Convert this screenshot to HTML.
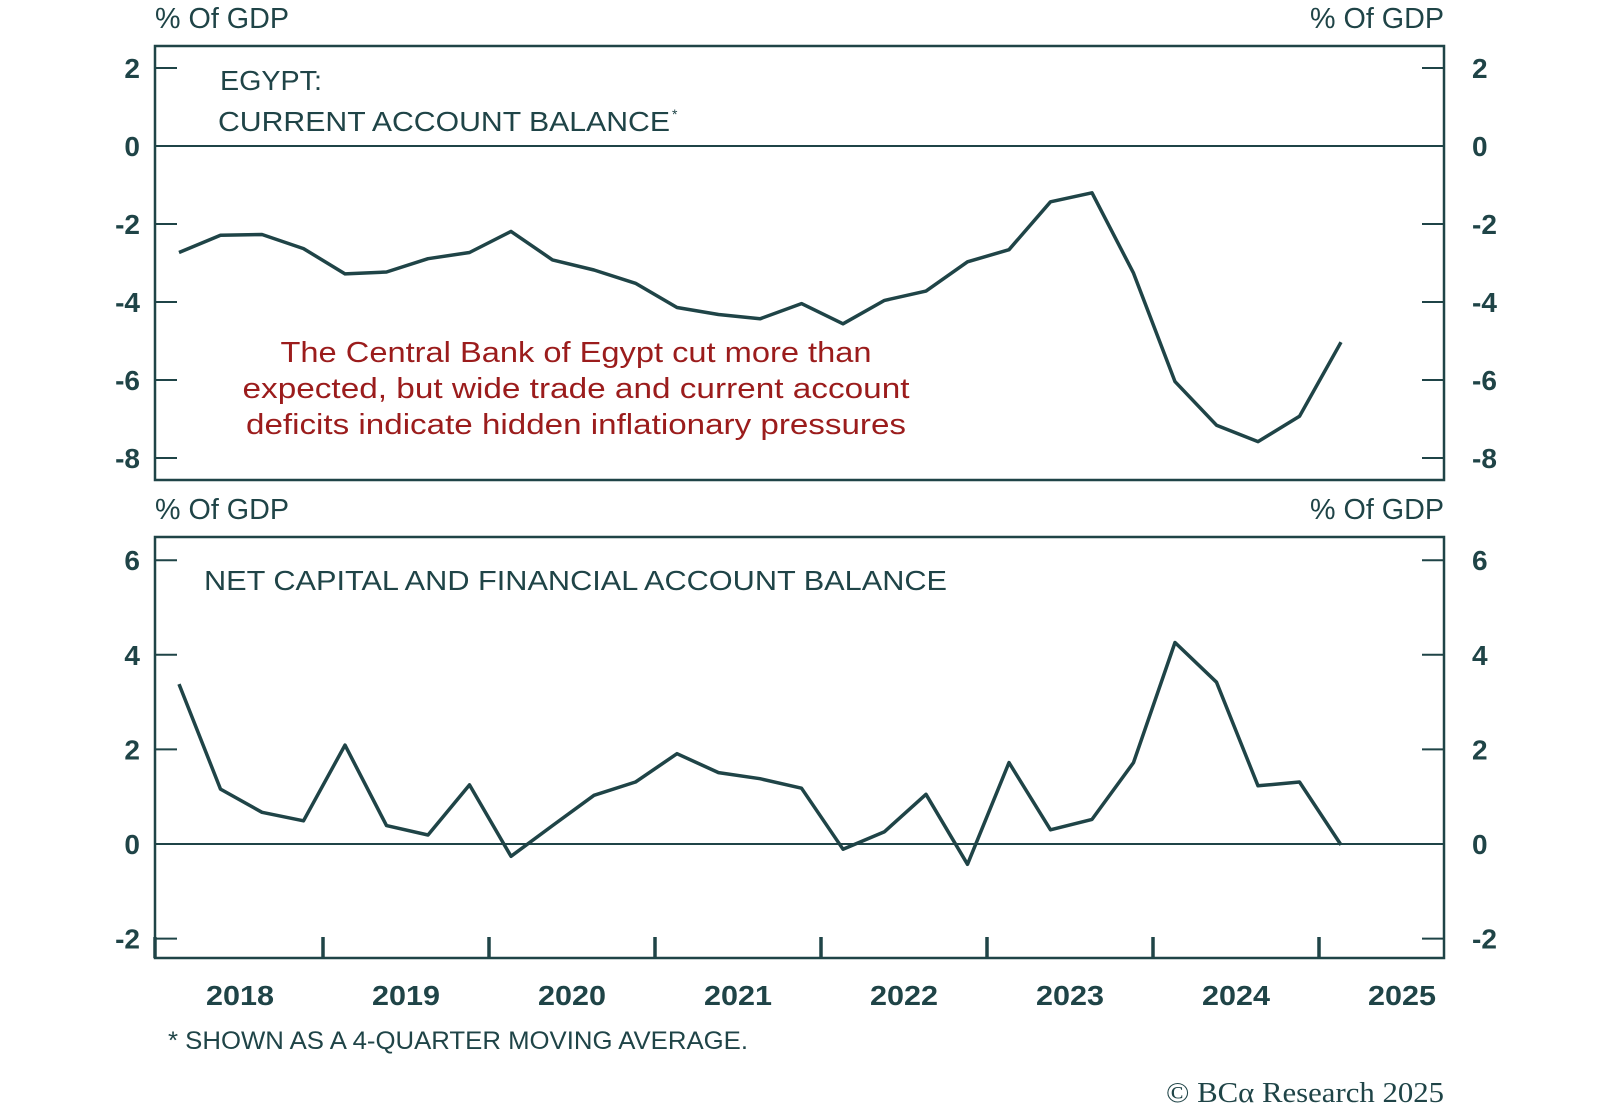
<!DOCTYPE html>
<html><head><meta charset="utf-8"><style>
html,body{margin:0;padding:0;background:#fff}
svg{display:block}
text{font-family:"Liberation Sans",sans-serif;fill:#1f4447}
</style></head><body>
<svg id="chart" width="1600" height="1107" viewBox="0 0 1600 1107">
<g id="static"></g>
</svg>
<script>
const years=["2018","2019","2020","2021","2022","2023","2024","2025"];
const topTicks=[2,0,-2,-4,-6,-8];
const botTicks=[6,4,2,0,-2];
const currentAccount=[-2.73,-2.29,-2.27,-2.63,-3.28,-3.23,-2.89,-2.73,-2.19,-2.92,-3.18,-3.52,-4.14,-4.32,-4.43,-4.04,-4.56,-3.96,-3.72,-2.97,-2.66,-1.43,-1.20,-3.26,-6.04,-7.16,-7.58,-6.93,-5.03];
const capitalAccount=[3.38,1.16,0.67,0.49,2.09,0.39,0.19,1.25,-0.26,0.39,1.03,1.31,1.91,1.51,1.38,1.18,-0.11,0.26,1.05,-0.43,1.72,0.30,0.52,1.72,4.26,3.42,1.23,1.31,-0.02];

const NS="http://www.w3.org/2000/svg";
const svg=document.getElementById('chart');
const C="#1f4447";
const L=155,R=1444;
function mk(tag,attrs,txt){const e=document.createElementNS(NS,tag);for(const k in attrs)e.setAttribute(k,attrs[k]);if(txt!==undefined)e.textContent=txt;svg.appendChild(e);return e;}
const xq=i=>179+41.5*i;
const yTop=v=>146-v*39;
const yBot=v=>844-v*47.3;

function panel(top,bottom,ticks,yf,name){
  let f=mk('rect',{x:L,y:top,width:R-L,height:bottom-top,fill:'none',stroke:C,'stroke-width':2.5});
  
  
  ticks.forEach(v=>{
    const y=yf(v);
    let t1=mk('line',{x1:L,x2:L+22,y1:y,y2:y,stroke:C,'stroke-width':2});
    
    
    let t2=mk('line',{x1:R-22,x2:R,y1:y,y2:y,stroke:C,'stroke-width':2});
    
    
    let a=mk('text',{x:140,y:y+10,'text-anchor':'end','font-size':28,'font-weight':'bold'},String(v));
    
    
    let b=mk('text',{x:1472,y:y+10,'text-anchor':'start','font-size':28,'font-weight':'bold'},String(v));
    
    
  });
  let z=mk('line',{x1:L,x2:R,y1:yf(0),y2:yf(0),stroke:C,'stroke-width':2});
  
  
}
function series(vals,yf,name){
  const d=vals.map((v,i)=>(i?'L':'M')+xq(i).toFixed(1)+','+yf(v).toFixed(1)).join(' ');
  let p=mk('path',{d:d,fill:'none',stroke:C,'stroke-width':3.5,'stroke-linejoin':'round'});
  
  
}
panel(46,480,topTicks,yTop,'top-panel');
panel(537,958,botTicks,yBot,'bottom-panel');
series(currentAccount,yTop,'current-account-line');
series(capitalAccount,yBot,'capital-account-line');

const xYear=i=>157+166*i;
years.forEach((y,i)=>{
  if(i>0){let t=mk('line',{x1:xYear(i),x2:xYear(i),y1:937,y2:958,stroke:C,'stroke-width':3.5});
    
    }
  let l=mk('text',{x:xYear(i)+83,y:1005,'text-anchor':'middle','font-size':28,'font-weight':'bold',textLength:68,lengthAdjust:'spacingAndGlyphs'},y);
  
  
});
let lt=mk('line',{x1:L,x2:L,y1:937,y2:958,stroke:C,'stroke-width':3.5});



function txt(x,y,s,size,anchor,name,len){const a={x:x,y:y,'font-size':size,'text-anchor':anchor||'start'};if(len){a.textLength=len;a.lengthAdjust='spacingAndGlyphs';}let e=mk('text',a,s);
  
  return e;}
txt(155,28,'% Of GDP',29,'start','top-left-unit',134);
txt(1444,28,'% Of GDP',29,'end','top-right-unit',134);
txt(155,519,'% Of GDP',29,'start','bottom-left-unit',134);
txt(1444,519,'% Of GDP',29,'end','bottom-right-unit',134);
txt(220,90,'EGYPT:',28,'start','top-title-line1',102);
txt(218,131,'CURRENT ACCOUNT BALANCE',28,'start','top-title-line2',452);
txt(672,119,'*',14,'start','top-title-asterisk');
txt(204,590,'NET CAPITAL AND FINANCIAL ACCOUNT BALANCE',28,'start','bottom-title',743);
txt(576,362,'The Central Bank of Egypt cut more than',29,'middle','annotation-line1',591).style.fill='#9b1c1c';
txt(576,398,'expected, but wide trade and current account',29,'middle','annotation-line2',667).style.fill='#9b1c1c';
txt(576,434,'deficits indicate hidden inflationary pressures',29,'middle','annotation-line3',660).style.fill='#9b1c1c';
txt(168,1049,'* SHOWN AS A 4-QUARTER MOVING AVERAGE.',25,'start','footnote',580);
let cp=txt(1444,1102,'© BCα Research 2025',28,'end','copyright',278);cp.style.fontFamily='"Liberation Serif",serif';
</script>
</body></html>
